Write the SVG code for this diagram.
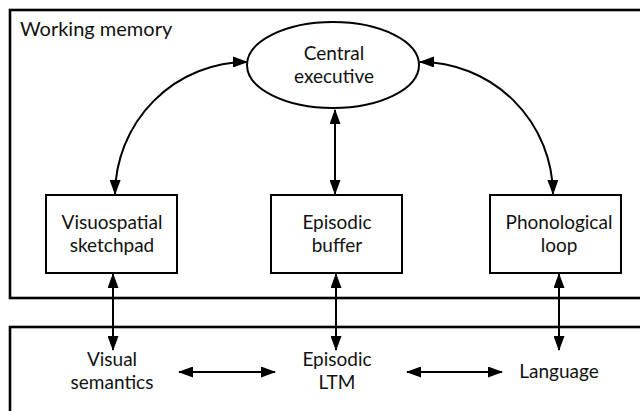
<svg xmlns="http://www.w3.org/2000/svg" width="640" height="411" viewBox="0 0 640 411">
  <style>
    .frame { fill: none; stroke: #000; stroke-width: 2.6; }
    .box { fill: #fff; stroke: #000; stroke-width: 2; }
    .link { fill: none; stroke: #000; stroke-width: 2; marker-start: url(#head); marker-end: url(#head); }
    text { font-family: Lato, "Open Sans", sans-serif; font-size: 19px; fill: #111; text-anchor: middle; }
    .title { text-anchor: start; font-size: 20px; }
  </style>
  <defs>
    <marker id="head" viewBox="0 0 15 11" refX="14" refY="5.5" markerWidth="15" markerHeight="11" markerUnits="userSpaceOnUse" orient="auto-start-reverse">
      <path d="M0,0 L15,5.5 L0,11 Z" fill="#000"/>
    </marker>
  </defs>
  <rect width="640" height="411" fill="#fff"/>

  <!-- enclosing regions -->
  <g id="working-memory">
    <rect class="frame" x="10" y="10" width="650" height="288"/>
    <text class="title" x="20" y="36">Working memory</text>
  </g>
  <g id="long-term-memory">
    <rect class="frame" x="10" y="327" width="650" height="110"/>
  </g>

  <!-- connectors -->
  <g id="connectors">
    <path class="link" d="M247,62 A132,133 0 0 0 115,194"/>
    <path class="link" d="M420,62 A133,133 0 0 1 553,194"/>
    <path class="link" d="M335,110 L335,194"/>
    <path class="link" d="M113,274 L113,350"/>
    <path class="link" d="M336,274 L336,350"/>
    <path class="link" d="M559,274 L559,350"/>
    <path class="link" d="M179,372 L275,372"/>
    <path class="link" d="M407,372 L502,372"/>
  </g>

  <g id="central-executive">
    <ellipse class="box" cx="333" cy="65" rx="86" ry="43"/>
    <text x="334" y="60">Central</text>
    <text x="334" y="83">executive</text>
  </g>
  <g id="visuospatial-sketchpad">
    <rect class="box" x="46" y="195" width="131" height="78"/>
    <text x="112" y="229">Visuospatial</text>
    <text x="112" y="252">sketchpad</text>
  </g>
  <g id="episodic-buffer">
    <rect class="box" x="271" y="195" width="131" height="78"/>
    <text x="337" y="229">Episodic</text>
    <text x="337" y="252">buffer</text>
  </g>
  <g id="phonological-loop">
    <rect class="box" x="490" y="195" width="131" height="78"/>
    <text x="559" y="229">Phonological</text>
    <text x="559" y="252">loop</text>
  </g>
  <g id="visual-semantics">
    <text x="112" y="366">Visual</text>
    <text x="112" y="389">semantics</text>
  </g>
  <g id="episodic-ltm">
    <text x="337" y="366">Episodic</text>
    <text x="337" y="389">LTM</text>
  </g>
  <g id="language">
    <text x="559" y="378">Language</text>
  </g>
</svg>
